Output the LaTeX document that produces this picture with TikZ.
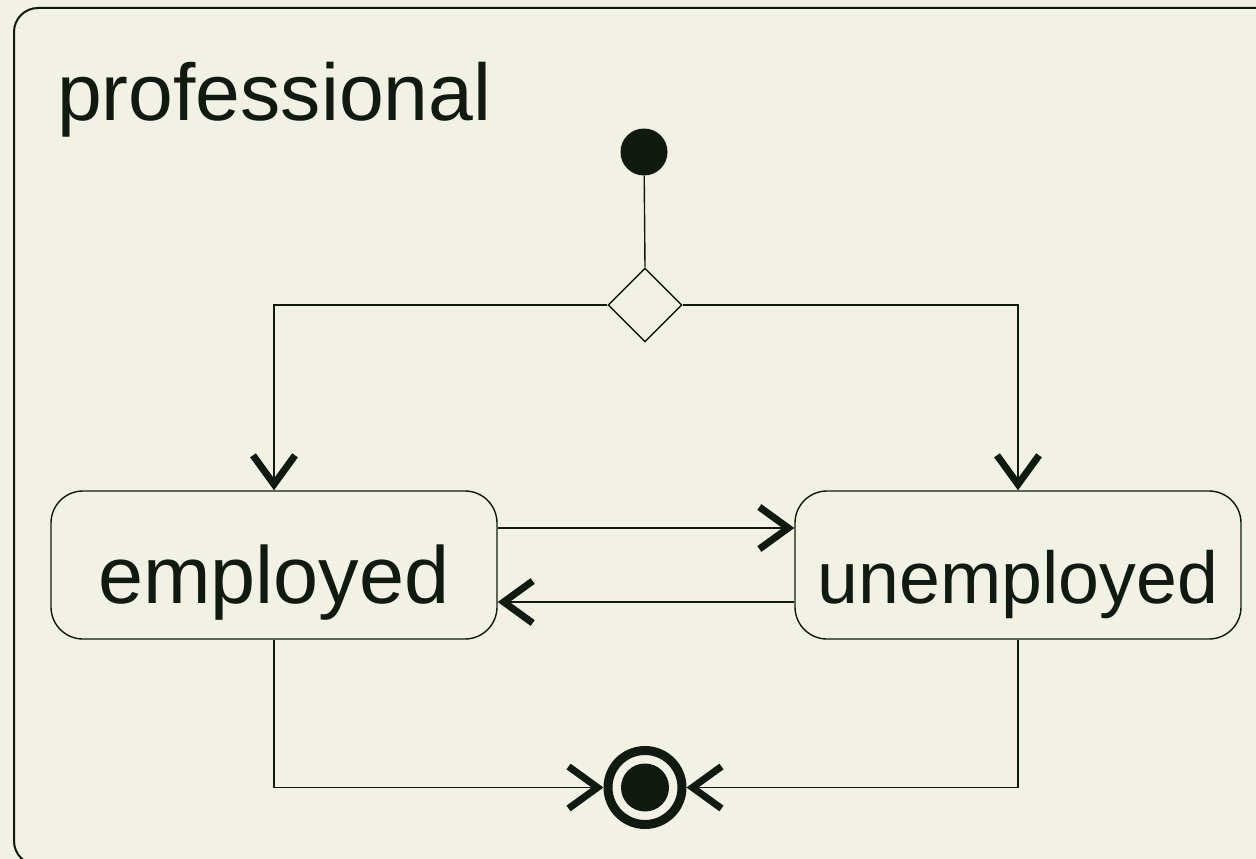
\documentclass[tikz,border=0pt]{standalone}
\usepackage{fontspec}
\setmainfont{Liberation Sans}
\usetikzlibrary{shapes.geometric,arrows.meta}
\definecolor{bgcol}{RGB}{241,241,230}
\definecolor{ink}{RGB}{16,26,16}
\tikzset{
  statebox/.style={draw=ink, line width=1.4pt, rounded corners=32pt,
    minimum width=446pt, minimum height=148pt, inner sep=0pt, text=ink,
    text height=76pt, text depth=0pt},
  flow/.style={draw=ink, line width=1.4pt},
  flowarrow/.style={flow, -{Straight Barb[sharp, length=29pt, width=42pt, line width=7pt]}},
}
\begin{document}
\begin{tikzpicture}[x=1pt, y=-1pt]
  \useasboundingbox (0,0) rectangle (1256,859);
  \fill[bgcol] (0,0) rectangle (1256,859);
  \clip (0,0) rectangle (1256,859);
  % enclosing composite state
  \draw[ink, line width=2pt, rounded corners=24pt] (14,8) rectangle (1290,865);
  \node[anchor=base west, inner sep=0pt, text=ink, font=\fontsize{80.5}{96}\selectfont]
    (title) at (57,120) {professional};

  % pseudo states
  \node[circle, fill=ink, minimum size=47pt, inner sep=0pt] (init) at (644,152) {};
  \node[diamond, draw=ink, line width=1.4pt, minimum width=74pt, minimum height=74pt,
        inner sep=0pt] (dec) at (645,305) {};
  \node[circle, draw=ink, line width=9pt, minimum size=74pt, inner sep=0pt] (final) at (645,787.5) {};
  \node[circle, fill=ink, minimum size=48pt, inner sep=0pt] (finaldot) at (final.center) {};

  % states
  \node[statebox, font=\fontsize{81}{96}\selectfont] (emp) at (274,565) {employed};
  \node[statebox, font=\fontsize{73.5}{90}\selectfont] (unemp) at (1018,565) {unemployed};

  % transitions
  \draw[flow] (init) -- (dec.north);
  \draw[flowarrow] (dec.west) -| (emp.north);
  \draw[flowarrow] (dec.east) -| (unemp.north);
  \draw[flowarrow] ([yshift=37pt]emp.east) -- ([yshift=37pt]unemp.west);
  \draw[flowarrow] ([yshift=-37pt]unemp.west) -- ([yshift=-37pt]emp.east);
  \draw[flowarrow] (emp.south) |- (final.west);
  \draw[flowarrow] (unemp.south) |- (final.east);
\end{tikzpicture}
\end{document}
